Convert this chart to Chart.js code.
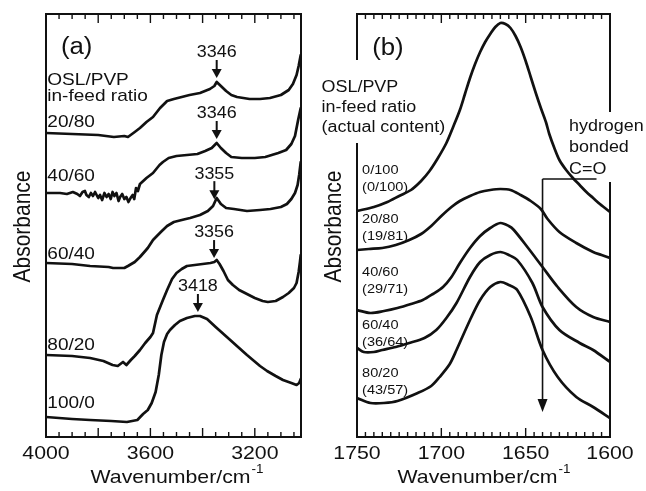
<!DOCTYPE html>
<html>
<head>
<meta charset="utf-8">
<script src="https://cdn.jsdelivr.net/npm/chart.js@4.4.1/dist/chart.umd.min.js"></script>
<style>
  body { margin: 0; background: #fff; }
  #wrap { position: relative; width: 646px; height: 491px; }
  canvas { position: absolute; top: 0; }
  #chartA { left: 0; }
  #chartB { left: 318px; }
</style>
</head>
<body>
<div id="wrap">
  <canvas id="chartA" width="318" height="491"></canvas>
  <canvas id="chartB" width="328" height="491"></canvas>
</div>
<script>
// ---- panel (a): O-H region, wavenumber (cm-1) / absorbance (a.u., offset) ----
const wnA_2080 = [4000, 3900, 3800, 3740, 3700, 3686, 3660, 3640, 3615, 3590, 3563, 3536, 3510, 3480, 3450, 3410, 3372, 3355, 3346, 3330, 3310, 3290, 3268, 3220, 3180, 3142, 3100, 3070, 3054, 3040, 3032, 3024];
const absA_2080 = [3.04, 3.03, 3.02, 3.00, 3.01, 3.00, 3.05, 3.09, 3.15, 3.20, 3.29, 3.36, 3.38, 3.40, 3.42, 3.44, 3.48, 3.51, 3.55, 3.51, 3.46, 3.42, 3.40, 3.38, 3.38, 3.39, 3.42, 3.47, 3.53, 3.62, 3.71, 3.82];

const wnA_4060 = [4000, 3946, 3920, 3897, 3880, 3870, 3860, 3851, 3845, 3836, 3828, 3820, 3812, 3800, 3793, 3785, 3776, 3768, 3760, 3752, 3745, 3738, 3730, 3722, 3716, 3708, 3700, 3692, 3684, 3676, 3668, 3662, 3655, 3648, 3640, 3615, 3590, 3565, 3552, 3530, 3500, 3460, 3420, 3390, 3365, 3346, 3330, 3310, 3290, 3250, 3200, 3160, 3110, 3080, 3060, 3046, 3034, 3024];
const absA_4060 = [2.44, 2.44, 2.43, 2.45, 2.43, 2.41, 2.45, 2.46, 2.42, 2.40, 2.44, 2.41, 2.45, 2.39, 2.42, 2.37, 2.44, 2.40, 2.43, 2.38, 2.45, 2.41, 2.44, 2.36, 2.40, 2.43, 2.38, 2.40, 2.35, 2.39, 2.42, 2.38, 2.49, 2.46, 2.53, 2.59, 2.64, 2.72, 2.75, 2.79, 2.81, 2.82, 2.83, 2.86, 2.89, 2.94, 2.89, 2.84, 2.80, 2.79, 2.79, 2.80, 2.84, 2.87, 2.93, 3.01, 3.17, 3.29];

const wnA_6040 = [4000, 3900, 3831, 3760, 3743, 3700, 3686, 3660, 3640, 3610, 3590, 3560, 3536, 3510, 3480, 3448, 3410, 3380, 3360, 3346, 3330, 3310, 3280, 3230, 3180, 3140, 3100, 3077, 3060, 3046, 3036, 3030, 3024];
const absA_6040 = [1.74, 1.73, 1.71, 1.70, 1.69, 1.69, 1.71, 1.75, 1.80, 1.89, 1.97, 2.05, 2.11, 2.15, 2.17, 2.19, 2.22, 2.26, 2.31, 2.39, 2.33, 2.29, 2.28, 2.26, 2.27, 2.28, 2.30, 2.33, 2.38, 2.44, 2.52, 2.62, 2.75];

const wnA_8020 = [4000, 3900, 3831, 3780, 3745, 3725, 3705, 3692, 3675, 3660, 3640, 3620, 3600, 3590, 3575, 3552, 3536, 3517, 3500, 3480, 3460, 3430, 3400, 3370, 3355, 3346, 3335, 3320, 3303, 3284, 3260, 3230, 3200, 3170, 3150, 3120, 3092, 3070, 3050, 3040, 3032, 3027, 3024];
const absA_8020 = [0.82, 0.81, 0.79, 0.76, 0.72, 0.71, 0.75, 0.72, 0.77, 0.81, 0.87, 0.94, 1.00, 1.04, 1.22, 1.37, 1.47, 1.58, 1.64, 1.68, 1.71, 1.72, 1.73, 1.74, 1.75, 1.77, 1.73, 1.66, 1.57, 1.52, 1.47, 1.43, 1.39, 1.36, 1.35, 1.36, 1.40, 1.44, 1.49, 1.54, 1.65, 1.75, 1.82];

const wnA_1000 = [4000, 3900, 3831, 3750, 3690, 3650, 3628, 3610, 3595, 3580, 3568, 3558, 3548, 3536, 3525, 3506, 3487, 3460, 3430, 3410, 3383, 3350, 3307, 3260, 3230, 3180, 3153, 3120, 3092, 3060, 3040, 3030, 3024];
const absA_1000 = [0.20, 0.18, 0.17, 0.16, 0.15, 0.17, 0.23, 0.27, 0.34, 0.45, 0.62, 0.82, 0.95, 1.03, 1.07, 1.12, 1.16, 1.19, 1.21, 1.21, 1.18, 1.10, 1.00, 0.89, 0.82, 0.71, 0.66, 0.61, 0.57, 0.54, 0.52, 0.54, 0.58];

const ratiosA = ['20/80', '40/60', '60/40', '80/20', '100/0'];
const peaksA = [3346, 3346, 3355, 3356, 3418];
const tickLabelsA = [4000, 3600, 3200];

// ---- panel (b): C=O region ----
const wnB_0100 = [1750, 1740, 1732, 1725, 1718, 1712, 1707, 1702, 1697, 1693, 1689, 1686, 1683, 1680, 1677, 1674, 1671, 1668, 1665, 1662, 1659, 1656, 1653, 1650, 1647, 1644, 1641, 1638, 1636, 1633, 1630, 1626, 1622, 1618, 1614, 1610, 1606, 1603, 1600];
const absB_0100 = [2.26, 2.30, 2.35, 2.41, 2.47, 2.56, 2.66, 2.79, 2.94, 3.10, 3.27, 3.43, 3.59, 3.73, 3.85, 3.95, 4.03, 4.10, 4.14, 4.13, 4.09, 4.01, 3.90, 3.76, 3.60, 3.44, 3.29, 3.15, 3.03, 2.89, 2.77, 2.67, 2.59, 2.52, 2.45, 2.39, 2.33, 2.29, 2.25];

const wnB_2080 = [1750, 1743, 1735, 1727, 1719, 1712, 1706, 1700, 1694, 1689, 1683, 1677, 1671, 1665, 1659, 1653, 1647, 1641, 1637, 1630, 1620, 1610, 1605, 1600];
const absB_2080 = [1.87, 1.88, 1.89, 1.92, 1.97, 2.03, 2.11, 2.21, 2.30, 2.36, 2.41, 2.45, 2.47, 2.48, 2.47, 2.42, 2.36, 2.28, 2.18, 2.05, 1.94, 1.85, 1.82, 1.79];

const wnB_4060 = [1750, 1742, 1734, 1726, 1718, 1711, 1705, 1699, 1694, 1689, 1683, 1677, 1671, 1665, 1660, 1657, 1649, 1640, 1631, 1620, 1610, 1600];
const absB_4060 = [1.27, 1.24, 1.26, 1.29, 1.33, 1.37, 1.43, 1.50, 1.60, 1.74, 1.89, 2.01, 2.09, 2.14, 2.11, 2.07, 1.90, 1.70, 1.50, 1.30, 1.20, 1.15];

const wnB_6040 = [1750, 1746, 1740, 1735, 1727, 1719, 1710, 1703, 1697, 1691, 1683, 1677, 1671, 1665, 1660, 1655, 1646, 1640, 1630, 1618, 1610, 1600];
const absB_6040 = [0.89, 0.85, 0.85, 0.87, 0.90, 0.94, 0.99, 1.07, 1.19, 1.34, 1.60, 1.75, 1.82, 1.85, 1.82, 1.77, 1.54, 1.30, 1.07, 0.94, 0.87, 0.75];

const wnB_8020 = [1750, 1742, 1734, 1726, 1714, 1706, 1701, 1695, 1691, 1683, 1677, 1671, 1665, 1660, 1655, 1647, 1640, 1631, 1620, 1610, 1600];
const absB_8020 = [0.39, 0.34, 0.34, 0.36, 0.44, 0.51, 0.60, 0.73, 0.87, 1.17, 1.37, 1.50, 1.55, 1.52, 1.47, 1.20, 0.87, 0.60, 0.40, 0.30, 0.19];

const ratiosB = ['0/100', '20/80', '40/60', '60/40', '80/20'];
const actualB = ['(0/100)', '(19/81)', '(29/71)', '(36/64)', '(43/57)'];
const tickLabelsB = [1750, 1700, 1650, 1600];

const INK = '#111';
const FONT = '"Liberation Sans", Arial, Helvetica, sans-serif';
const SX = 1.12; // the original text is a bit wide

function drawText(ctx, s, x, y, size, align) {
    ctx.save();
    ctx.font = size + 'px ' + FONT;
    ctx.textBaseline = 'middle';
    ctx.textAlign = 'left';
    const w = ctx.measureText(s).width * SX;
    const x0 = align === 'center' ? x - w / 2 : (align === 'right' ? x - w : x);
    ctx.translate(x0, y);
    ctx.scale(SX, 1);
    ctx.fillText(s, 0, 0);
    ctx.restore();
}

function valueAt(data, wn) {
    for (let i = 0; i < data.length - 1; i++) {
        const a = data[i], b = data[i + 1];
        if ((wn <= a.x && wn >= b.x) || (wn >= a.x && wn <= b.x)) {
            const t = (wn - a.x) / (b.x - a.x);
            return a.y + t * (b.y - a.y);
        }
    }
    return data[0].y;
}

const framePlugin = {
    id: 'frame',
    afterDraw(chart, args, o) {
        const ctx = chart.ctx, a = chart.chartArea;
        const xs = chart.scales.x, ys = chart.scales.y;
        const X = v => xs.getPixelForValue(v), Y = v => ys.getPixelForValue(v);
        const seg = (x1, y1, x2, y2) => { ctx.beginPath(); ctx.moveTo(x1, y1); ctx.lineTo(x2, y2); ctx.stroke(); };
        const head = (px, tip, w, h) => {
            ctx.beginPath(); ctx.moveTo(px - w / 2, tip - h); ctx.lineTo(px + w / 2, tip - h); ctx.lineTo(px, tip); ctx.closePath(); ctx.fill();
        };
        ctx.save();
        ctx.strokeStyle = INK;
        ctx.fillStyle = INK;

        // box, with gaps where text sits on the spine
        ctx.lineWidth = 2;
        seg(a.left - 1, a.top, a.right + 1, a.top);
        seg(a.left - 1, a.bottom, a.right + 1, a.bottom);
        const side = (xp, gap) => {
            if (gap) { seg(xp, a.top, xp, Y(gap[0])); seg(xp, Y(gap[1]), xp, a.bottom); }
            else seg(xp, a.top, xp, a.bottom);
        };
        side(a.left, o.leftGap);
        side(a.right, o.rightGap);

        // inward ticks top and bottom
        ctx.lineWidth = 1.4;
        const n = Math.round((xs.max - xs.min) / o.minor);
        for (let k = 1; k <= n; k++) {
            const v = xs.max - k * o.minor;
            const px = X(v);
            if (px > a.right - 3) continue;
            const len = v % o.major === 0 ? 9 : 5;
            seg(px, a.bottom, px, a.bottom - len);
            seg(px, a.top, px, a.top + len);
        }

        o.tickLabels.forEach(v => drawText(ctx, String(v), X(v), a.bottom + 17, 19, 'center'));

        // x title with superscript
        ctx.font = '19px ' + FONT;
        const w1 = ctx.measureText('Wavenumber/cm').width * SX;
        ctx.font = '12px ' + FONT;
        const w2 = ctx.measureText('-1').width * SX;
        const x0 = (a.left + a.right) / 2 - (w1 + w2) / 2 + o.titleShift;
        drawText(ctx, 'Wavenumber/cm', x0, a.bottom + 41, 19, 'left');
        drawText(ctx, '-1', x0 + w1 + 1, a.bottom + 33, 12, 'left');

        // y title
        ctx.save();
        ctx.translate(a.left - 22, (a.top + a.bottom) / 2 + 1);
        ctx.rotate(-Math.PI / 2);
        ctx.scale(1, SX);
        ctx.font = '21px ' + FONT;
        ctx.textAlign = 'center';
        ctx.textBaseline = 'middle';
        ctx.fillText('Absorbance', 0, 0);
        ctx.restore();

        // text annotations in data units
        o.texts.forEach(t => drawText(ctx, t[0], X(t[1]), Y(t[2]), t[3], 'left'));

        // peak arrows
        (o.peaks || []).forEach(p => {
            const px = X(p.wn);
            const tip = Y(valueAt(chart.data.datasets[p.set].data, p.wn)) - 4;
            ctx.lineWidth = 2;
            seg(px, tip - 18, px, tip - 7);
            head(px, tip, 10, 9);
            drawText(ctx, String(p.wn), px, tip - 25, 16, 'center');
        });

        // hydrogen bonded C=O marker
        if (o.bracket) {
            const b = o.bracket;
            const px = X(b.x), top = Y(b.top), tip = Y(b.tip);
            ctx.lineWidth = 1.6;
            seg(X(b.x2), top, px, top);
            seg(px, top, px, tip - 10);
            head(px, tip, 10, 13);
        }
        ctx.restore();
    }
};

function series(wn, ab) {
    return wn.map((w, i) => ({ x: w, y: ab[i] }));
}

function makeChart(id, cfg) {
    return new Chart(document.getElementById(id), {
        type: 'line',
        data: {
            datasets: cfg.sets.map(s => ({
                data: series(s[0], s[1]),
                borderColor: INK,
                borderWidth: 2.7,
                pointRadius: 0,
                tension: cfg.tension,
                fill: false,
                borderJoinStyle: 'round',
                borderCapStyle: 'round'
            }))
        },
        options: {
            responsive: false,
            animation: false,
            events: [],
            layout: { padding: cfg.padding },
            scales: {
                x: { type: 'linear', min: cfg.xmin, max: cfg.xmax, reverse: true, display: false },
                y: { min: 0, max: 4.23, display: false }
            },
            plugins: {
                legend: { display: false },
                tooltip: { enabled: false },
                frame: cfg.frame
            }
        },
        plugins: [framePlugin]
    });
}

// panel (a)
const ratioYA = [3.15, 2.61, 1.83, 0.92, 0.34];
makeChart('chartA', {
    sets: [[wnA_2080, absA_2080], [wnA_4060, absA_4060], [wnA_6040, absA_6040], [wnA_8020, absA_8020], [wnA_1000, absA_1000]],
    tension: 0,
    xmin: 3023, xmax: 4000,
    padding: { left: 46, right: 17, top: 14, bottom: 54 },
    frame: {
        minor: 50, major: 200,
        tickLabels: tickLabelsA,
        titleShift: 3,
        texts: [
            ['(a)', 3943, 3.89, 23],
            ['OSL/PVP', 3995, 3.57, 17],
            ['in-feed ratio', 3995, 3.41, 17]
        ].concat(ratiosA.map((r, i) => [r, 3995, ratioYA[i], 17])),
        peaks: peaksA.map((wn, i) => ({ wn: wn, set: i }))
    }
});

// panel (b)
const ratioYB = [2.67, 2.18, 1.65, 1.12, 0.64];
makeChart('chartB', {
    sets: [[wnB_0100, absB_0100], [wnB_2080, absB_2080], [wnB_4060, absB_4060], [wnB_6040, absB_6040], [wnB_8020, absB_8020]],
    tension: 0.3,
    xmin: 1600, xmax: 1750,
    padding: { left: 39, right: 36, top: 14, bottom: 54 },
    frame: {
        minor: 5, major: 50,
        tickLabels: tickLabelsB,
        titleShift: 0,
        leftGap: [3.77, 2.94],
        rightGap: [3.25, 2.55],
        texts: [
            ['(b)', 1741, 3.88, 23],
            ['OSL/PVP', 1771, 3.49, 16],
            ['in-feed ratio', 1771, 3.29, 16],
            ['(actual content)', 1771, 3.09, 16],
            ['hydrogen', 1624.3, 3.10, 16],
            ['bonded', 1624.3, 2.89, 16],
            ['C=O', 1624.3, 2.67, 16]
        ].concat(ratiosB.map((r, i) => [r, 1747, ratioYB[i], 13]))
         .concat(actualB.map((r, i) => [r, 1747, ratioYB[i] - 0.17, 13])),
        bracket: { x: 1640, x2: 1608, top: 2.58, tip: 0.25 }
    }
});
</script>
</body>
</html>
